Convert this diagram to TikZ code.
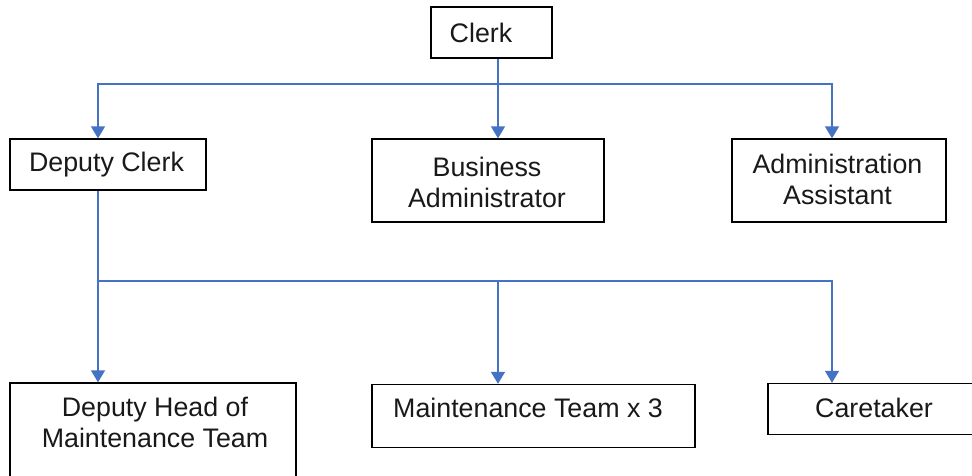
\documentclass[tikz,border=0pt]{standalone}
\usepackage{fontspec}
\setmainfont{Liberation Sans}
\usetikzlibrary{arrows.meta}
\definecolor{lineblue}{RGB}{68,114,196}
\definecolor{txt}{RGB}{25,25,25}
\begin{document}
\begin{tikzpicture}[x=1pt,y=-1pt,
  box/.style={draw=black,line width=1.4pt,inner sep=0pt,fill=none},
  lbl/.style={text=txt,font=\fontsize{26.8}{31}\selectfont,align=center,inner sep=0pt},
  conn/.style={draw=lineblue,line width=1.6pt},
  arr/.style={conn,-{Triangle[width=14pt,length=12pt]}}]
\useasboundingbox (0,0) rectangle (972,475);
% boxes
\node[box,minimum width=121pt,minimum height=51pt] (clerk) at (491.5,32.5) {};
\node[box,minimum width=196pt,minimum height=51pt] (dc) at (108,164.5) {};
\node[box,minimum width=232pt,minimum height=83pt] (ba) at (488,180.5) {};
\node[box,minimum width=214pt,minimum height=83pt] (aa) at (839,180.5) {};
\node[box,minimum width=286pt,minimum height=110pt] (dh) at (153,438) {};
\node[box,minimum width=323pt,minimum height=63pt] (mt) at (533.5,416) {};
\node[box,minimum width=260pt,minimum height=51pt] (ct) at (898,409) {};
% labels
\node[lbl] (clerkt) at (481,33) {Clerk};
\node[lbl] (dct) at (106.5,165) {Deputy Clerk};
\node[lbl] (bat) at (487,182) {Business\\Administrator};
\node[lbl] (aat) at (837.5,179) {Administration\\Assistant};
\node[lbl] (dht) at (155,422) {Deputy Head of\\Maintenance Team};
\node[lbl] (mtt) at (528,408) {Maintenance Team x 3};
\node[lbl] (ctt) at (874,408) {Caretaker};
% junctions
\coordinate (h1L) at (98,84);
\coordinate (h1M) at (498,84);
\coordinate (h1R) at (832,84);
\coordinate (h2L) at (98,281);
\coordinate (h2M) at (498,281);
\coordinate (h2R) at (832,281);
% connectors
\draw[arr] (clerk.south -| h1M) -- (ba.north -| h1M);
\draw[arr] (h1M) -| (dc.north -| h1L);
\draw[arr] (h1M) -| (aa.north -| h1R);
\draw[arr] (dc.south -| h2L) -- (dh.north -| h2L);
\draw[arr] (h2L) -| (mt.north -| h2M);
\draw[arr] (h2L) -| (ct.north -| h2R);
\end{tikzpicture}
\end{document}
